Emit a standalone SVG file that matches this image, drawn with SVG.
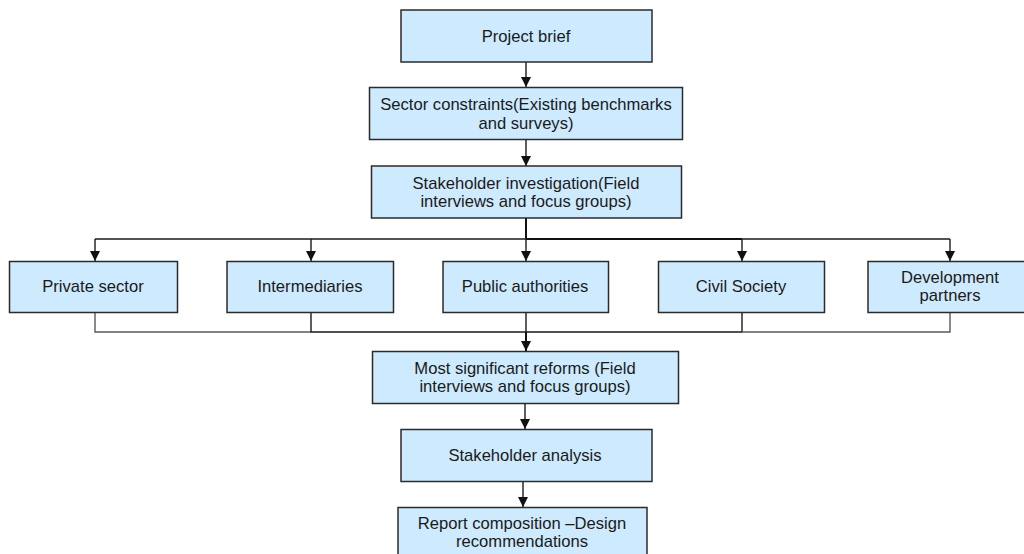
<svg xmlns="http://www.w3.org/2000/svg" width="1024" height="554" viewBox="0 0 1024 554">
<style>
.box{fill:#cdeafe;stroke:#2b2b2b;stroke-width:1.5}
.t{font-family:"Liberation Sans",Arial,sans-serif;font-size:16.6px;fill:#1a1a1a;text-anchor:middle}
.ln{fill:none;stroke:#1a1a1a;stroke-width:1.4}
.lg{fill:none;stroke:#5a5a5a;stroke-width:1.4}
.lt{fill:none;stroke:#111;stroke-width:2}
</style>
<defs>
<marker id="ah" viewBox="0 0 10 10" refX="10" refY="5" markerWidth="10" markerHeight="10" markerUnits="userSpaceOnUse" orient="auto">
<path d="M0,0 L10,5 L0,10 Z" fill="#111"/>
</marker>
</defs>
<rect width="1024" height="554" fill="#fff"/>
<g id="connectors">
<line class="ln" x1="526" y1="62" x2="526" y2="87" marker-end="url(#ah)"/>
<line class="ln" x1="526" y1="140" x2="526" y2="166" marker-end="url(#ah)"/>
<line class="lt" x1="526" y1="218" x2="526" y2="239"/>
<line class="ln" x1="95" y1="239" x2="526" y2="239"/>
<line class="lt" x1="526" y1="239" x2="742" y2="239"/>
<line class="ln" x1="742" y1="239" x2="950" y2="239"/>
<line class="ln" x1="95" y1="239" x2="95" y2="261" marker-end="url(#ah)"/>
<line class="ln" x1="311" y1="239" x2="311" y2="261" marker-end="url(#ah)"/>
<line class="ln" x1="526" y1="239" x2="526" y2="261" marker-end="url(#ah)"/>
<line class="ln" x1="742" y1="239" x2="742" y2="261" marker-end="url(#ah)"/>
<line class="ln" x1="950" y1="239" x2="950" y2="261" marker-end="url(#ah)"/>
<polyline class="lg" points="95,312 95,332 311,332"/>
<polyline class="ln" points="311,312 311,332 526,332"/>
<line class="ln" x1="526" y1="312" x2="526" y2="332"/>
<polyline class="ln" points="526,332 742,332 742,312"/>
<polyline class="lg" points="742,332 950,332 950,312"/>
<line class="lt" x1="526" y1="332" x2="526" y2="351" marker-end="url(#ah)"/>
<line class="ln" x1="525" y1="404" x2="525" y2="429" marker-end="url(#ah)"/>
<line class="ln" x1="523" y1="482" x2="523" y2="507" marker-end="url(#ah)"/>
</g>
<g id="project-brief">
<rect class="box" x="401" y="10" width="251" height="52"/>
<text class="t" x="526" y="42">Project brief</text>
</g>
<g id="sector-constraints">
<rect class="box" x="369.5" y="87.5" width="313" height="52"/>
<text class="t" x="526" y="110">Sector constraints(Existing benchmarks</text>
<text class="t" x="526" y="129">and surveys)</text>
</g>
<g id="stakeholder-investigation">
<rect class="box" x="371.5" y="166" width="310" height="52"/>
<text class="t" x="526" y="189">Stakeholder investigation(Field</text>
<text class="t" x="526" y="207">interviews and focus groups)</text>
</g>
<g id="private-sector">
<rect class="box" x="9.5" y="261.5" width="168" height="51"/>
<text class="t" x="93" y="292">Private sector</text>
</g>
<g id="intermediaries">
<rect class="box" x="227" y="261.5" width="166.5" height="51"/>
<text class="t" x="310" y="292">Intermediaries</text>
</g>
<g id="public-authorities">
<rect class="box" x="443" y="261.5" width="165.5" height="51"/>
<text class="t" x="525" y="292">Public authorities</text>
</g>
<g id="civil-society">
<rect class="box" x="658.5" y="261.5" width="166" height="51"/>
<text class="t" x="741" y="292">Civil Society</text>
</g>
<g id="development-partners">
<rect class="box" x="868" y="261.5" width="165" height="51"/>
<text class="t" x="950" y="283">Development</text>
<text class="t" x="950" y="301">partners</text>
</g>
<g id="most-significant-reforms">
<rect class="box" x="372.5" y="351.5" width="306" height="52"/>
<text class="t" x="525" y="374">Most significant reforms (Field</text>
<text class="t" x="525" y="392">interviews and focus groups)</text>
</g>
<g id="stakeholder-analysis">
<rect class="box" x="401" y="429.5" width="251" height="52"/>
<text class="t" x="525" y="461">Stakeholder analysis</text>
</g>
<g id="report-composition">
<rect class="box" x="398" y="507.5" width="249" height="52"/>
<text class="t" x="522" y="529">Report composition –Design</text>
<text class="t" x="522" y="547">recommendations</text>
</g>
</svg>
